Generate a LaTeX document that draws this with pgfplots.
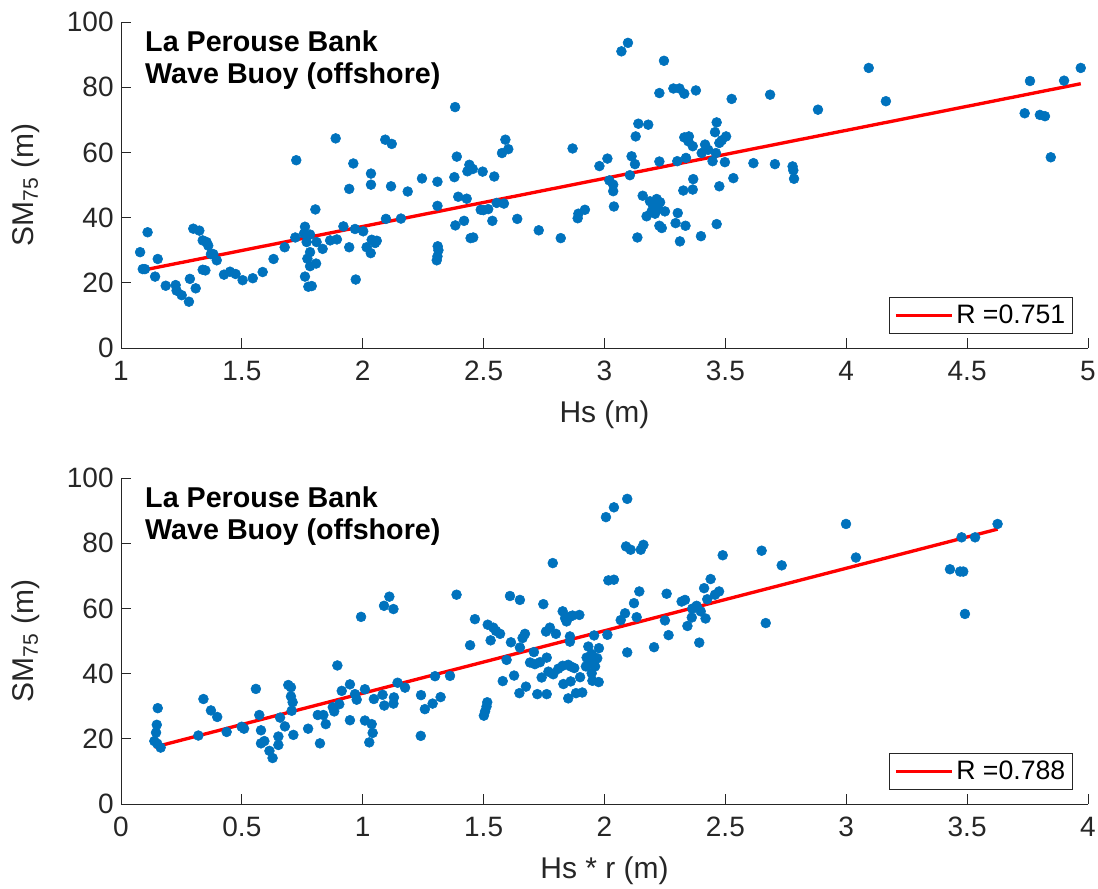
\documentclass[border=0pt]{standalone}
\usepackage{pgfplots}
\pgfplotsset{compat=1.18}
\usepackage{fontspec}
\setmainfont{Liberation Sans}
\definecolor{mblue}{rgb}{0,0.447,0.741}
\definecolor{axgray}{rgb}{0.15,0.15,0.15}
\tikzset{ttl/.style={anchor=base west, inner sep=0pt, font=\fontsize{21.5}{26}\selectfont\bfseries}}
\pgfplotsset{
  myaxis/.style={
    scale only axis, width=725.25pt, height=244.5pt,
    anchor=south west,
    axis x line*=bottom, axis y line*=left,
    tick align=inside, major tick length=7.5pt,
    axis line style={color=axgray, line width=0.6pt},
    tick style={color=axgray, line width=0.6pt},
    ymin=0, ymax=100, ytick={0,20,...,100},
    /pgf/number format/assume math mode=true,
    ticklabel style={font=\fontsize{21}{25}\selectfont, color=axgray},
    xticklabel style={yshift=-6.5pt},
    yticklabel style={xshift=-2pt},
    label style={font=\fontsize{22.5}{27}\selectfont, color=axgray},
    xlabel style={at={(axis description cs:0.5,-0.230)}, anchor=base},
    ylabel style={at={(axis description cs:-0.091,0.5)}, anchor=base},
    ylabel={SM\textsubscript{75} (m)},
    clip=false,
    legend style={at={(axis description cs:0.9845,0.043)}, anchor=south east,
      draw=axgray, line width=0.6pt, font=\fontsize{20}{23}\selectfont,
      inner xsep=3.5pt, inner ysep=4pt, legend cell align=left},
    legend image code/.code={\draw[#1] (0pt,0pt) -- (42pt,0pt);},
    scatterstyle/.style={only marks, mark=*, mark size=3.7pt, mark options={draw=mblue, fill=mblue}, forget plot},
    fitstyle/.style={red, line width=2.5pt, no marks},
  }
}
\begin{document}
\begin{tikzpicture}
% ---------------- top axis ----------------
\begin{axis}[myaxis, at={(90.75pt,405pt)},
  xmin=1, xmax=5, xtick={1,1.5,...,5},
  xticklabels={1,1.5,2,2.5,3,3.5,4,4.5,5},
  xlabel={Hs (m)}]
\addplot[scatterstyle] table {
1.079 29.4
1.090 24.2
1.099 24.2
1.110 35.5
1.141 21.9
1.152 27.3
1.185 19.1
1.226 19.3
1.230 17.6
1.251 16.2
1.281 14.2
1.285 21.2
1.309 18.3
1.299 36.6
1.324 36.0
1.338 33.0
1.354 32.5
1.361 31.4
1.372 28.8
1.382 28.8
1.396 26.9
1.338 24.0
1.349 23.8
1.426 22.5
1.451 23.4
1.474 22.7
1.503 20.8
1.545 21.4
1.586 23.3
1.631 27.3
1.677 30.9
1.725 57.6
1.721 33.9
1.761 37.2
1.757 35.1
1.768 32.5
1.782 34.8
1.782 29.4
1.771 27.4
1.782 25.1
1.807 25.9
1.761 21.9
1.775 18.8
1.789 19.0
1.804 42.5
1.809 32.5
1.834 30.4
1.865 33.0
1.893 33.3
1.888 64.3
1.920 37.3
1.944 30.9
1.944 48.8
1.961 56.6
1.971 21.0
1.968 36.5
2.002 35.8
2.016 30.9
2.033 29.1
2.037 33.2
2.051 32.2
2.058 32.9
2.034 53.5
2.034 50.1
2.093 63.9
2.120 62.6
2.117 49.6
2.096 39.6
2.158 39.7
2.186 48.0
2.245 52.0
2.309 51.0
2.309 43.6
2.310 31.2
2.313 30.0
2.309 28.1
2.306 26.9
2.382 73.9
2.389 58.7
2.379 52.4
2.395 46.4
2.383 37.6
2.419 39.0
2.430 45.8
2.441 56.2
2.433 54.2
2.455 54.9
2.446 33.7
2.457 33.9
2.496 54.1
2.499 42.3
2.519 42.6
2.488 42.4
2.544 52.6
2.536 39.0
2.554 44.5
2.584 44.3
2.576 59.8
2.590 63.9
2.602 61.0
2.639 39.6
2.728 36.1
2.819 33.7
2.868 61.2
2.889 39.8
2.892 41.2
2.919 42.4
2.979 55.8
3.012 58.1
3.020 51.4
3.036 50.1
3.036 48.1
3.039 43.4
3.070 91.0
3.097 93.6
3.105 53.0
3.112 58.8
3.126 56.4
3.129 64.9
3.140 68.8
3.181 68.5
3.158 46.7
3.136 33.9
3.227 78.2
3.246 88.1
3.227 57.2
3.174 40.4
3.188 45.0
3.202 43.5
3.216 45.7
3.223 42.6
3.195 41.9
3.209 41.2
3.230 44.7
3.250 41.9
3.227 37.5
3.237 36.8
3.285 79.6
3.310 79.6
3.330 78.0
3.378 79.0
3.303 41.4
3.294 38.3
3.335 37.5
3.312 32.7
3.301 57.3
3.326 48.3
3.337 58.3
3.330 64.6
3.349 64.9
3.347 63.4
3.365 61.9
3.367 51.8
3.365 48.6
3.399 34.3
3.402 59.8
3.416 62.4
3.429 60.8
3.447 57.3
3.461 59.8
3.457 66.2
3.464 69.2
3.475 62.9
3.485 63.7
3.503 64.9
3.475 49.6
3.464 38.0
3.498 57.0
3.526 76.4
3.533 52.1
3.616 56.7
3.685 77.7
3.705 56.4
3.778 55.7
3.781 54.5
3.784 51.9
3.883 73.1
4.093 85.9
4.164 75.7
4.738 72.0
4.760 81.9
4.801 71.5
4.822 71.1
4.846 58.5
4.901 82.0
4.970 85.9
};
\addplot[fitstyle] coordinates {(1.079,23.70) (4.970,81.06)};
\addlegendentry{R =0.751}
\node[ttl] at (axis description cs:0.0248,0.908) {La Perouse Bank};
\node[ttl] at (axis description cs:0.0248,0.810) {Wave Buoy (offshore)};
\end{axis}
% ---------------- bottom axis ----------------
\begin{axis}[myaxis, at={(90.75pt,63pt)},
  xmin=0, xmax=4, xtick={0,0.5,...,4},
  xticklabels={0,0.5,1,1.5,2,2.5,3,3.5,4},
  xlabel={Hs * r (m)}]
\addplot[scatterstyle] table {
0.152 29.4
0.148 24.3
0.145 21.9
0.138 19.3
0.150 18.5
0.164 17.3
0.320 21.0
0.341 32.2
0.372 28.7
0.398 26.7
0.437 22.1
0.499 23.7
0.509 23.1
0.558 35.3
0.572 27.3
0.579 22.6
0.579 18.6
0.593 19.3
0.614 16.3
0.627 14.1
0.651 20.7
0.651 18.1
0.658 26.5
0.678 23.8
0.692 36.5
0.703 35.8
0.703 33.0
0.710 31.2
0.706 28.6
0.713 21.2
0.774 23.1
0.814 27.3
0.837 27.3
0.847 24.5
0.823 18.6
0.876 29.7
0.882 28.4
0.895 42.5
0.903 30.6
0.913 34.7
0.947 36.7
0.947 25.7
0.975 32.0
0.968 33.7
0.993 57.4
1.009 35.2
1.009 25.6
1.027 18.9
1.037 24.5
1.041 21.8
1.046 32.2
1.082 33.5
1.089 30.2
1.088 60.8
1.110 63.6
1.127 59.8
1.129 32.7
1.127 30.8
1.144 37.2
1.175 35.7
1.241 33.4
1.240 20.9
1.257 29.1
1.289 30.8
1.299 39.2
1.322 32.8
1.361 39.3
1.388 64.2
1.444 48.7
1.464 56.7
1.501 27.1
1.506 28.4
1.515 31.2
1.512 29.9
1.517 55.0
1.529 50.2
1.540 54.1
1.551 53.1
1.568 52.2
1.579 37.7
1.595 44.2
1.609 63.8
1.613 49.6
1.626 39.4
1.650 62.6
1.650 48.0
1.661 50.9
1.671 52.2
1.648 34.0
1.675 36.0
1.692 43.4
1.708 46.6
1.712 42.9
1.733 43.5
1.761 44.9
1.722 33.7
1.761 33.7
1.740 38.8
1.747 61.3
1.758 52.9
1.774 54.1
1.799 52.2
1.786 73.9
1.768 40.6
1.788 39.8
1.809 41.5
1.827 42.4
1.827 59.1
1.837 57.0
1.843 56.0
1.857 57.5
1.868 57.8
1.896 58.0
1.857 51.4
1.857 49.8
1.850 42.7
1.860 42.2
1.875 41.7
1.830 36.8
1.860 37.6
1.899 38.9
1.850 32.4
1.882 34.0
1.908 34.2
1.933 48.3
1.926 44.9
1.937 44.5
1.947 46.0
1.957 51.7
1.961 44.2
1.961 42.2
1.970 44.7
1.923 42.2
1.933 42.7
1.947 40.1
1.950 37.8
1.976 37.4
1.977 47.8
2.006 88.0
2.016 68.6
2.039 68.8
2.039 91.0
2.012 51.9
2.067 56.4
2.085 58.5
2.094 93.6
2.089 79.0
2.108 78.0
2.094 46.5
2.122 61.6
2.133 57.3
2.144 65.2
2.150 78.0
2.161 79.5
2.205 48.1
2.250 56.3
2.257 64.5
2.265 51.8
2.319 62.1
2.333 62.6
2.343 54.6
2.363 59.9
2.361 57.2
2.381 60.8
2.392 49.5
2.398 59.1
2.412 66.2
2.418 56.9
2.425 62.8
2.439 69.0
2.457 64.2
2.474 65.2
2.489 76.3
2.650 77.7
2.667 55.5
2.733 73.2
2.999 85.9
3.040 75.6
3.429 72.0
3.477 81.8
3.471 71.3
3.484 71.3
3.491 58.3
3.533 81.8
3.626 85.9
};
\addplot[fitstyle] coordinates {(0.138,17.45) (3.626,84.31)};
\addlegendentry{R =0.788}
\node[ttl] at (axis description cs:0.0248,0.908) {La Perouse Bank};
\node[ttl] at (axis description cs:0.0248,0.810) {Wave Buoy (offshore)};
\end{axis}
\pgfresetboundingbox
\path[use as bounding box] (0pt,0pt) rectangle (823.5pt,666pt);
\end{tikzpicture}
\end{document}
